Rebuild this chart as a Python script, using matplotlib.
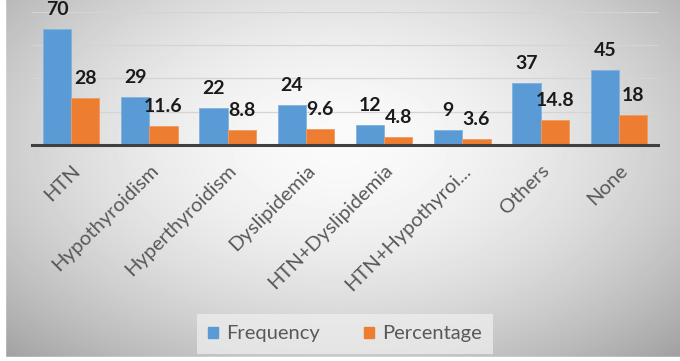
import numpy as np
import matplotlib.pyplot as plt
from matplotlib.patches import Patch

# Comorbidities: frequency and percentage
categories = ['HTN', 'Hypothyroidism', 'Hyperthyroidism', 'Dyslipidemia',
              'HTN+Dyslipidemia', 'HTN+Hypothyroi...', 'Others', 'None']
frequency = [70, 29, 22, 24, 12, 9, 37, 45]
percentage = [28, 11.6, 8.8, 9.6, 4.8, 3.6, 14.8, 18]

blue = '#5B9BD5'
orange = '#ED7D31'
plt.rcParams['font.family'] = ['Lato', 'DejaVu Sans']

fig = plt.figure(figsize=(6.8, 3.61), dpi=100)

# radial grey gradient behind the chart
bg = fig.add_axes([0, 0, 1, 1], zorder=-10)
yy, xx = np.mgrid[-1:1:361j, -1:1:680j]
r = np.sqrt((xx / 1.05) ** 2 + ((yy + 0.2) / 1.2) ** 2)
shade = 0.98 - 0.2 * np.clip(r, 0, 1.4) ** 1.8
bg.imshow(shade, cmap='gray', vmin=0, vmax=1, aspect='auto', extent=[0, 1, 0, 1])
bg.axvspan(0, 5 / 680, color='white')
bg.axhspan(0, 4 / 361, color='white')
bg.set_xlim(0, 1)
bg.set_ylim(0, 1)
bg.axis('off')

ax = fig.add_axes([32 / 680, 1 - 145 / 361, 626 / 680, 133 / 361])
ax.patch.set_alpha(0)

x = np.arange(len(categories))
w = 0.36
b1 = ax.bar(x - w / 2, frequency, w, color=blue, edgecolor='#7fb3e0', linewidth=0.6, zorder=3)
b2 = ax.bar(x + w / 2, percentage, w, color=orange, edgecolor='#f29a5e', linewidth=0.6, zorder=3)

for bars, vals in ((b1, frequency), (b2, percentage)):
    for bar, v in zip(bars, vals):
        ax.annotate(f'{v:g}', (bar.get_x() + bar.get_width() / 2, bar.get_height()),
                    xytext=(0, 8), textcoords='offset points', ha='center', va='bottom',
                    fontsize=14, fontweight='bold', color='#1a1a1a', annotation_clip=False)

ax.set_xlim(-0.5, len(categories) - 0.5)
ax.set_ylim(0, 80)
ax.set_yticks([20, 40, 60, 80])
ax.yaxis.grid(True, color='#d4d4d4', linewidth=0.9, zorder=0)
ax.tick_params(axis='y', left=False, labelleft=False)
ax.tick_params(axis='x', length=0, pad=12)
ax.set_xticks(x)
ax.set_xticklabels(categories, rotation=45, ha='right', rotation_mode='anchor',
                   fontsize=14.5, color='#595959')
for s in ('top', 'right', 'left'):
    ax.spines[s].set_visible(False)
ax.spines['bottom'].set_color('#404040')
ax.spines['bottom'].set_linewidth(2.2)
ax.spines['bottom'].set_zorder(4)

handles = [Patch(color=blue), Patch(color=orange)]
leg = fig.legend(handles, ['Frequency', 'Percentage'], loc='center',
                 bbox_to_anchor=(345 / 680, 1 - 334 / 361), ncol=2, frameon=True,
                 fontsize=14.5, handlelength=0.5, handleheight=0.5, handletextpad=0.4,
                 columnspacing=2.2, borderpad=0.55)
for t in leg.get_texts():
    t.set_color('#595959')
leg.get_frame().set_facecolor('#f0f0f0')
leg.get_frame().set_edgecolor('none')
leg.get_frame().set_alpha(0.7)
leg.get_frame().set_boxstyle('square', pad=0)

fig.savefig('out.png', dpi=100)
